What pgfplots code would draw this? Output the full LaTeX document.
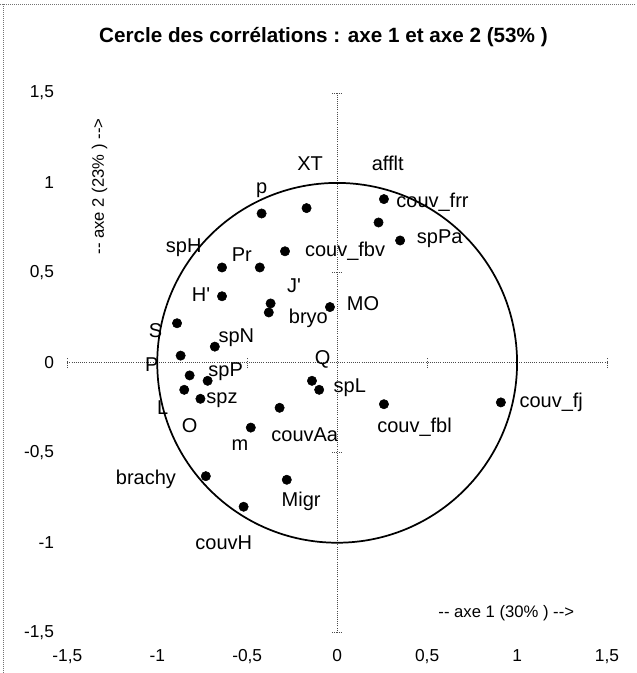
\documentclass[border=0pt]{standalone}
\usepackage{pgfplots}
\pgfplotsset{compat=1.18}
\usepackage{fontspec}
\setmainfont{Liberation Sans}[Ligatures=TeXOff]

\tikzset{
  lab/.style={font=\fontsize{15}{17}\selectfont, inner sep=0pt, anchor=center},
  zeroaxis/.style={densely dotted, black!70, line width=0.6pt},
}

\begin{document}
\begin{tikzpicture}
\begin{axis}[
    x=135pt, y=135pt,
    xmin=-1.5, xmax=1.5,
    ymin=-1.5, ymax=1.5,
    axis line style={draw=none},
    major tick style={draw=none},
    xtick={-1.5,-1,-0.5,0,0.5,1,1.5},
    xticklabels={{-1,5},{-1},{-0,5},{0},{0,5},{1},{1,5}},
    ytick={-1.5,-1,-0.5,0,0.5,1,1.5},
    yticklabels={{-1,5},{-1},{-0,5},{0},{0,5},{1},{1,5}},
    tick label style={font=\fontsize{13}{15}\selectfont},
    xticklabel style={yshift=-9pt},
    yticklabel style={xshift=-6.5pt},
    clip=false,
]

% page frame (scan border)
\path (axis cs:-1.8722,2.0167) rectangle (axis cs:1.6611,-1.7222);
\draw[densely dotted, black!55, line width=0.5pt]
    (axis cs:-1.8722,1.994) -- (axis cs:1.6611,1.994);
\draw[densely dotted, black!55, line width=0.5pt]
    (axis cs:-1.856,1.994) -- (axis cs:-1.856,-1.7222);

% dotted zero axes with small ticks
\draw[zeroaxis] (axis cs:-1.5,0) -- (axis cs:1.5,0);
\draw[zeroaxis] (axis cs:0,-1.5) -- (axis cs:0,1.5);
\pgfplotsinvokeforeach{-1.5,-1,-0.5,0.5,1,1.5}{
  \draw[zeroaxis] ([yshift=-3.75pt]axis cs:#1,0) -- ([yshift=3.75pt]axis cs:#1,0);
  \draw[zeroaxis] ([xshift=-3.75pt]axis cs:0,#1) -- ([xshift=3.75pt]axis cs:0,#1);
}

% variables
\addplot[only marks, mark=*, mark size=3.5pt, black] coordinates {
    (-0.42, 0.83) (-0.17, 0.86) (0.26, 0.91) (0.23, 0.78) (0.35, 0.68)
    (-0.29, 0.62) (-0.64, 0.53) (-0.43, 0.53) (-0.64, 0.37) (-0.37, 0.33)
    (-0.38, 0.28) (-0.04, 0.31) (-0.89, 0.22) (-0.68, 0.09) (-0.87, 0.04)
    (-0.82, -0.07) (-0.72, -0.10) (-0.85, -0.15) (-0.76, -0.20) (-0.14, -0.10)
    (-0.10, -0.15) (0.26, -0.23) (0.91, -0.22) (-0.32, -0.25) (-0.48, -0.36)
    (-0.73, -0.63) (-0.28, -0.65) (-0.52, -0.80)
};

% labels
\node[lab] at (axis cs:-0.42, 0.96) {p};
\node[lab] at (axis cs:-0.15, 1.105) {XT};
\node[lab] at (axis cs:0.281, 1.11) {afflt};
\node[lab] at (axis cs:0.53, 0.895) {couv\_frr};
\node[lab] at (axis cs:0.57, 0.69) {spPa};
\node[lab] at (axis cs:0.044, 0.62) {couv\_fbv};
\node[lab] at (axis cs:-0.853, 0.64) {spH};
\node[lab] at (axis cs:-0.53, 0.60) {Pr};
\node[lab] at (axis cs:-0.24, 0.43) {J'};
\node[lab] at (axis cs:-0.757, 0.38) {H'};
\node[lab] at (axis cs:-0.16, 0.25) {bryo};
\node[lab] at (axis cs:0.144, 0.33) {MO};
\node[lab] at (axis cs:-1.01, 0.18) {S};
\node[lab] at (axis cs:-0.56, 0.14) {spN};
\node[lab] at (axis cs:-1.03, -0.01) {P};
\node[lab] at (axis cs:-0.08, 0.02) {Q};
\node[lab] at (axis cs:-0.62, -0.05) {spP};
\node[lab] at (axis cs:-0.64, -0.21) {spz};
\node[lab] at (axis cs:-0.97, -0.25) {L};
\node[lab] at (axis cs:-0.82, -0.35) {O};
\node[lab] at (axis cs:-0.54, -0.46) {m};
\node[lab] at (axis cs:-0.18, -0.40) {couvAa};
\node[lab] at (axis cs:0.07, -0.14) {spL};
\node[lab] at (axis cs:0.43, -0.36) {couv\_fbl};
\node[lab] at (axis cs:1.19, -0.22) {couv\_fj};
\node[lab] at (axis cs:-1.063, -0.65) {brachy};
\node[lab] at (axis cs:-0.20, -0.77) {Migr};
\node[lab] at (axis cs:-0.63, -1.00) {couvH};

% correlation circle
\draw[black, line width=1.3pt] (axis cs:0,0) circle [radius=1];

% axis names
\node[font=\fontsize{12.5}{14}\selectfont, anchor=center] at (axis cs:0.94,-1.39)
    {-- axe 1 (30\% ) -->};
\node[font=\fontsize{12.5}{14}\selectfont, anchor=center, rotate=90] at (axis cs:-1.32,0.98)
    {-- axe 2 (23\% ) -->};

% title
\node[font=\bfseries\fontsize{15.5}{18}\selectfont, anchor=base] at (axis cs:-0.076,1.778)
    {Cercle des corrélations : axe 1 et axe 2 (53\% )};

\end{axis}
\end{tikzpicture}
\end{document}
